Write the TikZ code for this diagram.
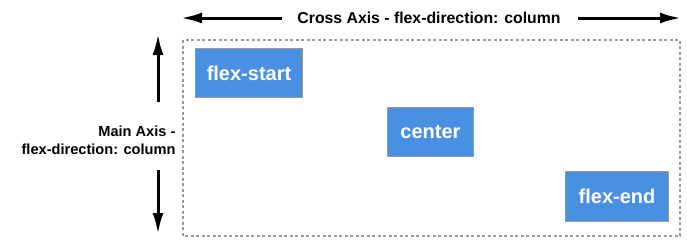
\documentclass[tikz,border=0pt]{standalone}
\usepackage{fontspec}
\setmainfont{Liberation Sans}
\usetikzlibrary{arrows.meta,positioning}

\definecolor{itemblue}{HTML}{4A90E2}
\definecolor{itemgray}{HTML}{999999}

\begin{document}
\begin{tikzpicture}[x=1pt,y=-1pt,>={Latex[length=21pt,width=11pt]},
  every node/.style={font=\bfseries\fontsize{15.8}{18}\selectfont},
  item/.style={draw=itemgray,line width=1pt,fill=itemblue,text=white,inner sep=0pt,anchor=north west,
    font=\bfseries\fontsize{20}{22}\selectfont},
  axis/.style={->,line width=3pt}]
\useasboundingbox (0,0) rectangle (687,239);
% container
\draw[itemgray,line width=1.2pt,dash pattern=on 3pt off 2.5pt] (183,40) rectangle (680,236);
% items
\node[item,minimum width=107pt,minimum height=49pt] (start) at (195,48) {flex-start};
\node[item,minimum width=86pt,minimum height=49pt] (center) at (387,107) {center};
\node[item,minimum width=103pt,minimum height=50pt] (end) at (565,171) {flex-end};
% cross axis
\node (cross) at (429,18) {Cross Axis - flex-direction: column};
\coordinate (crossL) at (181,18);
\coordinate (crossR) at (681,18);
\draw[axis] ([xshift=-12pt]cross.west) -- (crossL);
\draw[axis] ([xshift=14pt]cross.east) -- (crossR);
% main axis
\node[align=right,anchor=east,font=\bfseries\fontsize{14.6}{18}\selectfont] (main) at (179,140) {Main Axis -\\flex-direction: column};
\coordinate (mainT) at (158,34);
\coordinate (mainB) at (158,234);
\draw[axis] (158,102) -- (mainT);
\draw[axis] (158,170) -- (mainB);
\end{tikzpicture}
\end{document}
